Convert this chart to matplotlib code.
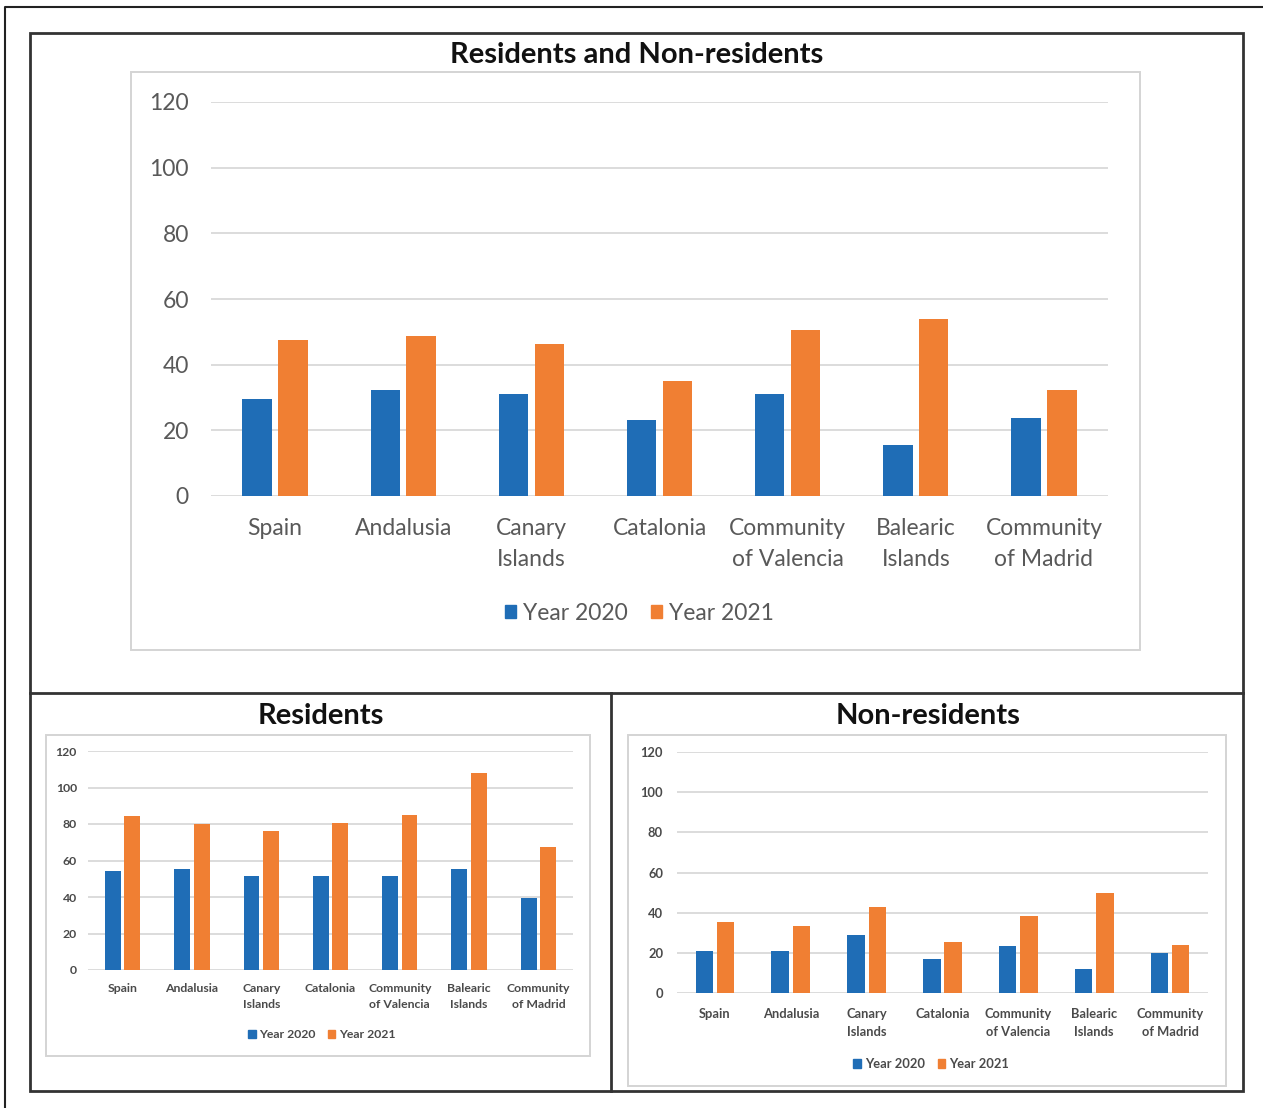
import numpy as np
import matplotlib.pyplot as plt
from matplotlib.patches import Rectangle, Patch

plt.rcParams['font.family'] = ['Lato', 'DejaVu Sans']

# Dados
regioes = ["Spain", "Andalusia", "Canary\nIslands", "Catalonia",
           "Community\nof Valencia", "Balearic\nIslands", "Community\nof Madrid"]
anos = ["Year 2020", "Year 2021"]

total_2020 = [29.4, 32.4, 31.2, 23.0, 31.2, 15.4, 23.8]
total_2021 = [47.5, 48.7, 46.4, 34.9, 50.7, 53.8, 32.4]

residentes_2020 = [54.4, 55.3, 51.7, 51.7, 51.3, 55.3, 39.6]
residentes_2021 = [84.6, 80.0, 76.0, 80.4, 84.8, 107.8, 67.2]

nao_residentes_2020 = [20.7, 20.7, 28.7, 16.9, 23.6, 12.1, 19.7]
nao_residentes_2021 = [35.5, 33.2, 42.6, 25.4, 38.3, 49.8, 24.0]

y_ticks = [0, 20, 40, 60, 80, 100, 120]

AZUL = '#1f6db6'
LARANJA = '#f07f33'
GRADE = '#d9d9d9'
TEXTO = '#595959'

W, H = 1263, 1108
fig = plt.figure(figsize=(W / 100, H / 100), dpi=100)

# Camada de fundo em pixels para as molduras
bg = fig.add_axes([0, 0, 1, 1])
bg.set_xlim(0, W)
bg.set_ylim(H, 0)
bg.axis('off')

bg.plot([5, 5, W + 5], [H + 5, 7, 7], color='#222222', lw=1.5)
bg.add_patch(Rectangle((30, 33), 1213, 1058, fill=False, ec='#333333', lw=2))
bg.plot([30, 1243], [693, 693], color='#333333', lw=2)
bg.plot([611, 611], [693, 1091], color='#333333', lw=2)

# Caixas cinzas de cada gráfico
caixas = [(131, 72, 1140, 650), (46, 735, 590, 1056), (628, 735, 1226, 1086)]
for x0, y0, x1, y1 in caixas:
    bg.add_patch(Rectangle((x0, y0), x1 - x0, y1 - y0, fill=False, ec='#d4d4d4', lw=1.4))


def caixa(x0, y0, x1, y1):
    return [x0 / W, 1 - y1 / H, (x1 - x0) / W, (y1 - y0) / H]


def grafico(pos, moldura, v2020, v2021, fs, peso, ypad, xpad, espaco, legenda_y, cor_txt,
            quadrado, colunas, larg=0.23, desloc=0.14):
    ax = fig.add_axes(caixa(*pos))
    x = np.arange(len(regioes))
    ax.bar(x - desloc, v2020, width=larg, color=AZUL, zorder=3)
    ax.bar(x + desloc, v2021, width=larg, color=LARANJA, zorder=3)
    ax.set_xlim(-0.5, len(regioes) - 0.5)
    ax.set_ylim(0, 120)
    ax.set_yticks(y_ticks)
    ax.set_yticklabels([str(t) for t in y_ticks], fontsize=fs, color=cor_txt, fontweight=peso)
    ax.set_xticks(x)
    ax.set_xticklabels(regioes, fontsize=fs, color=cor_txt, linespacing=espaco, fontweight=peso)
    ax.tick_params(axis='y', length=0, pad=ypad)
    ax.tick_params(axis='x', length=0, pad=xpad)
    ax.grid(axis='y', color=GRADE, lw=1.3, zorder=0)
    for s in ax.spines.values():
        s.set_visible(False)
    ax.set_facecolor('none')
    handles = [Patch(color=AZUL, label=anos[0]), Patch(color=LARANJA, label=anos[1])]
    cx = (moldura[0] + moldura[2]) / 2 / W + 4 / W
    ax.legend(handles=handles, loc='center', bbox_to_anchor=(cx, 1 - legenda_y / H),
              bbox_transform=fig.transFigure, ncol=2, frameon=False,
              prop={'size': fs, 'weight': peso}, labelcolor=cor_txt,
              handlelength=quadrado, handleheight=quadrado,
              handletextpad=0.3, columnspacing=colunas)
    return ax


grafico((211, 102, 1108, 496), caixas[0], total_2020, total_2021,
        16.5, 'normal', 16, 16, 1.55, 613, TEXTO, 0.5, 1.0)
grafico((88, 751, 573, 970), caixas[1], residentes_2020, residentes_2021,
        8.8, 'bold', 8, 9.5, 1.5, 1035, '#4a4a4a', 0.6, 1.0)
grafico((677, 752, 1208, 993), caixas[2], nao_residentes_2020, nao_residentes_2021,
        9.3, 'bold', 10, 10.5, 1.65, 1064, '#4a4a4a', 0.6, 1.0)

# Títulos
titulos = [(637, 55, "Residents and Non-residents"),
           (321, 716, "Residents"),
           (928, 716, "Non-residents")]
for tx, ty, texto in titulos:
    fig.text(tx / W, 1 - ty / H, texto, ha='center', va='center',
             fontsize=21, fontweight='bold', color='#111111')

fig.savefig("out.png", dpi=100)
